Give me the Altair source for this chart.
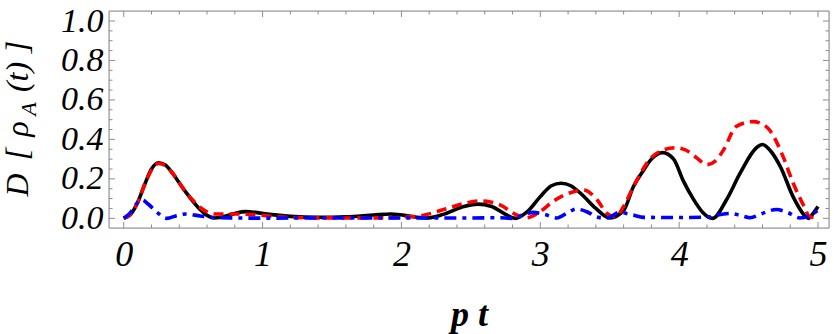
import altair as alt
import pandas as pd

# ---- data ----
black_t = [0.0, 0.05, 0.1, 0.15, 0.2, 0.25, 0.3, 0.35, 0.4, 0.45, 0.5, 0.55, 0.6, 0.65, 0.7, 0.8, 0.88, 0.95,
           1.05, 1.2, 1.4, 1.6, 1.8, 1.92, 2.02, 2.18, 2.3, 2.45, 2.55, 2.65, 2.75, 2.82, 2.9, 3.0, 3.08, 3.15,
           3.22, 3.3, 3.4, 3.5, 3.6, 3.67, 3.74, 3.8, 3.88, 3.96, 4.03, 4.1, 4.17, 4.24, 4.34, 4.44, 4.56, 4.6,
           4.66, 4.73, 4.82, 4.9, 4.93, 4.97, 5.0]
black_y = [0.0, 0.02, 0.08, 0.17, 0.25, 0.282, 0.27, 0.23, 0.18, 0.13, 0.085, 0.045, 0.015, 0.002, 0.005, 0.025,
           0.034, 0.03, 0.02, 0.01, 0.005, 0.008, 0.017, 0.022, 0.015, 0.002, 0.02, 0.06, 0.072, 0.06, 0.02, 0.0,
           0.03, 0.11, 0.165, 0.178, 0.165, 0.12, 0.05, 0.002, 0.04, 0.16, 0.24, 0.3, 0.333, 0.3, 0.19, 0.1, 0.03,
           0.0, 0.093, 0.23, 0.36, 0.374, 0.34, 0.26, 0.11, 0.017, 0.0, 0.03, 0.06]

red_t = [0.0, 0.05, 0.1, 0.15, 0.2, 0.25, 0.3, 0.35, 0.4, 0.45, 0.5, 0.55, 0.6, 0.67, 0.8, 0.95, 1.1, 1.3, 1.6,
         1.9, 2.0, 2.13, 2.33, 2.45, 2.56, 2.64, 2.71, 2.83, 2.9, 3.0, 3.09, 3.24, 3.31, 3.41, 3.48, 3.54, 3.6,
         3.67, 3.79, 3.88, 3.98, 4.05, 4.12, 4.2, 4.26, 4.32, 4.41, 4.53, 4.6, 4.65, 4.75, 4.82, 4.9, 4.94, 5.0]
red_y = [0.0, 0.02, 0.08, 0.17, 0.245, 0.278, 0.268, 0.23, 0.18, 0.13, 0.09, 0.055, 0.033, 0.022, 0.022, 0.018,
         0.008, 0.003, 0.002, 0.003, 0.005, 0.012, 0.05, 0.075, 0.088, 0.083, 0.068, 0.017, 0.003, 0.035, 0.085,
         0.135, 0.144, 0.093, 0.025, 0.008, 0.06, 0.16, 0.3, 0.345, 0.358, 0.345, 0.31, 0.272, 0.29, 0.347,
         0.465, 0.49, 0.478, 0.448, 0.31, 0.18, 0.06, 0.008, 0.002]

blue_t = [0.0, 0.05, 0.1, 0.13, 0.18, 0.24, 0.31, 0.38, 0.45, 0.55, 0.65, 0.8, 1.0, 1.5, 2.0, 2.5, 2.7, 2.8,
          2.9, 2.95, 3.03, 3.12, 3.2, 3.26, 3.33, 3.42, 3.48, 3.57, 3.65, 3.75, 4.0, 4.2, 4.3, 4.37, 4.44, 4.51,
          4.6, 4.7, 4.78, 4.87, 4.93, 5.0]
blue_y = [0.0, 0.03, 0.08, 0.093, 0.07, 0.03, 0.0, 0.013, 0.022, 0.012, 0.004, 0.002, 0.001, 0.002, 0.002,
          0.002, 0.003, 0.0, 0.025, 0.03, 0.02, 0.002, 0.03, 0.047, 0.035, 0.005, 0.002, 0.03, 0.02, 0.005,
          0.004, 0.006, 0.02, 0.025, 0.015, 0.003, 0.025, 0.045, 0.03, 0.002, 0.01, 0.042]

x_major = [0, 1, 2, 3, 4, 5]
x_minor = [0.2, 0.4, 0.6, 0.8, 1.2, 1.4, 1.6, 1.8, 2.2, 2.4, 2.6, 2.8, 3.2, 3.4, 3.6, 3.8,
           4.2, 4.4, 4.6, 4.8]
y_major = [0.0, 0.2, 0.4, 0.6, 0.8, 1.0]
y_minor = [0.05, 0.1, 0.15, 0.25, 0.3, 0.35, 0.45, 0.5, 0.55, 0.65, 0.7, 0.75, 0.85, 0.9, 0.95]
title_parts = ["D", "[", "ρ", "A", "(t)", "]"]

W, H = 720, 217
FRAME = "#8c8c8c"
SERIF = "Liberation Serif"

xs = alt.Scale(domain=[-0.106, 5.079], nice=False, zero=False)
ys = alt.Scale(domain=[-0.049, 1.0507], nice=False, zero=False)

x_enc = alt.X("t:Q", scale=xs,
              axis=alt.Axis(values=x_major, format="d", grid=False, domain=False, ticks=False,
                            labelFont=SERIF, labelFontStyle="italic", labelFontSize=36,
                            labelPadding=9, labelFlush=False,
                            title="p t", titleFont=SERIF, titleFontStyle="italic",
                            titleFontSize=36,
                            titleBaseline="alphabetic", titleY=97))
y_enc = alt.Y("y:Q", scale=ys,
              axis=alt.Axis(values=y_major, format=".1f", grid=False, domain=False, ticks=False,
                            labelFont=SERIF, labelFontStyle="italic", labelFontSize=34,
                            labelPadding=6, labelFlush=False, title=None))

layers = []
layers.append(alt.Chart(pd.DataFrame({"t": black_t, "y": black_y})).mark_line(
    color="black", strokeWidth=3.6, interpolate="monotone").encode(x=x_enc, y=y_enc))
layers.append(alt.Chart(pd.DataFrame({"t": red_t, "y": red_y})).mark_line(
    color="#ff0000", strokeWidth=3.6, strokeDash=[10, 6], interpolate="monotone").encode(
    x=alt.X("t:Q", scale=xs), y=alt.Y("y:Q", scale=ys)))
layers.append(alt.Chart(pd.DataFrame({"t": blue_t, "y": blue_y})).mark_line(
    color="#0000ff", strokeWidth=3.6, strokeDash=[12, 6, 4, 6], interpolate="monotone").encode(
    x=alt.X("t:Q", scale=xs), y=alt.Y("y:Q", scale=ys)))

for vals, length in [(x_major, 6), (x_minor, 3.5)]:
    d = pd.DataFrame({"t": vals})
    layers.append(alt.Chart(d).mark_rule(color=FRAME, strokeWidth=1).encode(
        x=alt.X("t:Q", scale=xs), y=alt.value(H), y2=alt.value(H - length)))
    layers.append(alt.Chart(d).mark_rule(color=FRAME, strokeWidth=1).encode(
        x=alt.X("t:Q", scale=xs), y=alt.value(0), y2=alt.value(length)))

for vals, length in [(y_major, 6), (y_minor, 3.5)]:
    d = pd.DataFrame({"y": vals})
    layers.append(alt.Chart(d).mark_rule(color=FRAME, strokeWidth=1).encode(
        y=alt.Y("y:Q", scale=ys), x=alt.value(0), x2=alt.value(length)))
    layers.append(alt.Chart(d).mark_rule(color=FRAME, strokeWidth=1).encode(
        y=alt.Y("y:Q", scale=ys), x=alt.value(W), x2=alt.value(W - length)))

# plot frame (drawn over the default view outline)
frame_df = pd.DataFrame({"k": [0]})
layers.append(alt.Chart(frame_df).mark_rule(color=FRAME, strokeWidth=1).encode(
    x=alt.value(0), x2=alt.value(W), y=alt.value(0)))
layers.append(alt.Chart(frame_df).mark_rule(color=FRAME, strokeWidth=1).encode(
    x=alt.value(0), x2=alt.value(W), y=alt.value(H)))
layers.append(alt.Chart(frame_df).mark_rule(color=FRAME, strokeWidth=1).encode(
    y=alt.value(0), y2=alt.value(H), x=alt.value(0)))
layers.append(alt.Chart(frame_df).mark_rule(color=FRAME, strokeWidth=1).encode(
    y=alt.value(0), y2=alt.value(H), x=alt.value(W)))

# y-axis title, written as pieces so that the subscript A can sit lower
piece_pos = [(174, -81, 32), (143, -81, 32), (118, -81, 32), (98, -73, 22), (66, -81, 32), (36, -81, 32)]
for txt, (ypos, xpos, size) in zip(title_parts, piece_pos):
    layers.append(alt.Chart(pd.DataFrame({"s": [txt]})).mark_text(
        font=SERIF, fontStyle="italic", fontSize=size, angle=270, align="center",
        baseline="alphabetic").encode(
        text="s:N", x=alt.value(xpos), y=alt.value(ypos)))

chart = alt.layer(*layers).properties(
    width=W, height=H,
    autosize=alt.AutoSizeParams(type="none"),
    padding={"left": 109, "top": 11, "right": 5, "bottom": 106},
    background="white",
)

chart.save("out.html", embed_options={"renderer": "svg", "actions": False})
